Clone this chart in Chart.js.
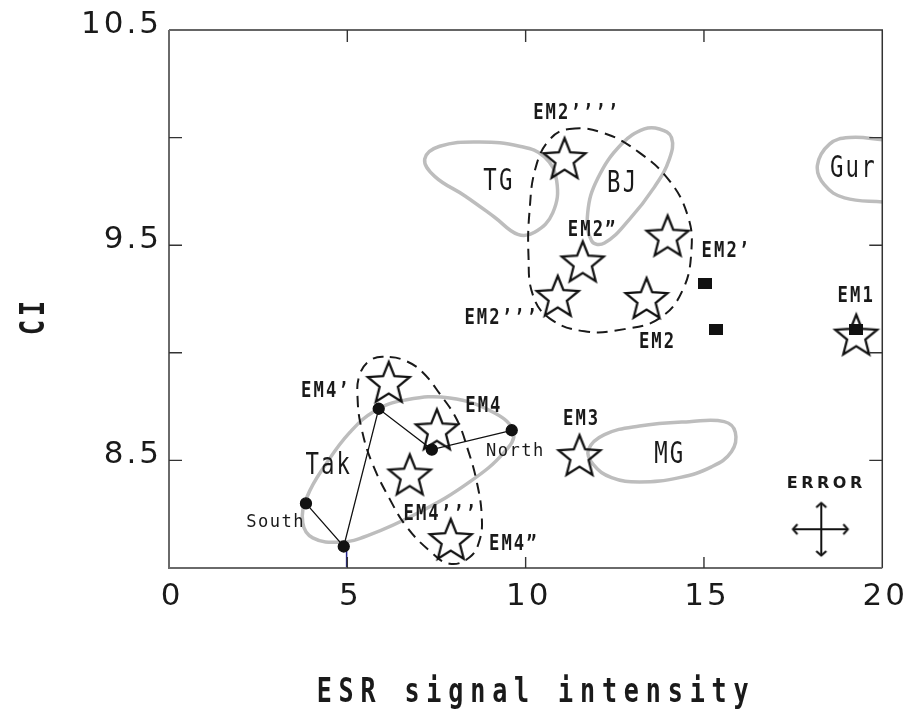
<!DOCTYPE html>
<html>
<head>
<meta charset="utf-8">
<script src="https://cdn.jsdelivr.net/npm/chart.js@4"></script>
<style>
html,body{margin:0;padding:0;background:#fff;}
#wrap{width:912px;height:709px;position:relative;}
</style>
</head>
<body>
<div id="wrap"><canvas id="chart"></canvas></div>
<script>
// axes
const xTicks = [0, 5, 10, 15, 20];
const yTicks = [8, 8.5, 9, 9.5, 10, 10.5];
const yTickLabels = ['10.5', '9.5', '8.5'];

// star samples (EM1 ... EM4''')
const starX = [19.27, 13.39, 13.98, 11.60, 10.90, 11.09, 11.51, 7.51, 6.16, 7.90, 6.75];
const starY = [9.08, 9.25, 9.54, 9.42, 9.26, 9.90, 8.52, 8.64, 8.86, 8.13, 8.43];

// black squares
const sqX = [15.04, 15.35, 19.27];
const sqY = [9.32, 9.11, 9.11];

// Tak profile, South -> North
const routeX = [3.84, 4.90, 5.88, 7.37, 9.61];
const routeY = [8.30, 8.10, 8.74, 8.55, 8.64];

// small blue mark under the lowest dot
const markX = [4.98, 4.98];
const markY = [8.0, 8.09];

// grey source fields
const tgX = [7.17, 7.59, 8.71, 9.83, 10.53, 10.87, 10.76, 10.25, 9.78, 9.13, 8.29, 7.45];
const tgY = [9.90, 9.96, 9.98, 9.96, 9.91, 9.80, 9.65, 9.56, 9.55, 9.63, 9.73, 9.82];
const bjX = [13.75, 14.09, 14.03, 13.61, 12.91, 12.21, 11.85, 11.74, 12.02, 12.69, 13.33];
const bjY = [10.04, 10.00, 9.90, 9.77, 9.62, 9.51, 9.52, 9.65, 9.81, 9.97, 10.04];
const gurX = [20.06, 19.08, 18.52, 18.18, 18.38, 18.94, 20.06];
const gurY = [9.99, 10.00, 9.97, 9.87, 9.78, 9.72, 9.70];
const mgX = [11.76, 12.21, 13.19, 14.59, 15.57, 15.88, 15.77, 15.21, 14.31, 13.19, 12.41, 11.90];
const mgY = [8.55, 8.62, 8.66, 8.68, 8.68, 8.63, 8.54, 8.47, 8.42, 8.40, 8.42, 8.48];
const takX = [3.75, 3.87, 4.43, 5.07, 5.77, 6.61, 7.87, 9.13, 9.66, 9.41, 8.43, 7.03, 5.57, 4.79, 4.03];
const takY = [8.21, 8.33, 8.49, 8.63, 8.73, 8.78, 8.79, 8.72, 8.63, 8.54, 8.40, 8.26, 8.15, 8.12, 8.14];

// dashed groups
const em2X = [11.23, 12.21, 13.19, 14.03, 14.54, 14.65, 14.40, 13.75, 12.77, 11.65, 10.67, 10.20, 10.08, 10.11, 10.28, 10.67];
const em2Y = [10.04, 10.02, 9.93, 9.80, 9.64, 9.48, 9.29, 9.16, 9.11, 9.10, 9.16, 9.27, 9.45, 9.66, 9.86, 9.99];
const em4X = [6.19, 6.67, 7.11, 7.59, 8.07, 8.38, 8.63, 8.77, 8.71, 8.43, 7.87, 7.31, 6.67, 6.19, 5.69, 5.41, 5.29, 5.35, 5.69];
const em4Y = [8.98, 8.96, 8.91, 8.81, 8.69, 8.55, 8.40, 8.24, 8.13, 8.05, 8.02, 8.08, 8.19, 8.32, 8.49, 8.64, 8.78, 8.90, 8.97];

// error cross
const errHX = [17.51, 19.02];
const errHY = [8.18, 8.18];
const errVX = [18.29, 18.29];
const errVY = [8.30, 8.06];

// text labels
const emLabels = ['EM1', 'EM2', 'EM2’', 'EM2”', 'EM2’’’', 'EM2’’’’', 'EM3', 'EM4', 'EM4’', 'EM4”', 'EM4’’’'];
const emLabelX = [19.24, 13.67, 15.60, 11.85, 9.30, 11.40, 11.54, 8.80, 4.37, 9.64, 7.59];
const emLabelY = [9.27, 9.06, 9.48, 9.58, 9.17, 10.12, 8.70, 8.76, 8.83, 8.12, 8.26];
const areaLabels = ['TG', 'BJ', 'Gur', 'MG', 'Tak'];
const areaLabelX = [9.22, 12.69, 19.16, 14.01, 4.45];
const areaLabelY = [9.81, 9.80, 9.87, 8.54, 8.49];
const siteLabels = ['South', 'North'];
const siteLabelX = [2.97, 9.69];
const siteLabelY = [8.22, 8.55];
const errLabel = 'ERROR';
const errLabelX = 18.38;
const errLabelY = 8.40;
const xTitle = 'ESR signal intensity';
const yTitle = 'CI';

function pts(xs, ys) {
  return xs.map((x, i) => ({x: x, y: ys[i]}));
}

// closed smooth loop: wrap one point on each side and hide the two extra segments
function loop(xs, ys) {
  const p = pts(xs, ys);
  const n = p.length;
  return [p[n - 1]].concat(p, [p[0], p[1]]);
}

function outline(xs, ys, color, width, dash, closed) {
  const data = closed ? loop(xs, ys) : pts(xs, ys);
  const last = data.length - 1;
  const ds = {
    data: data,
    showLine: true,
    borderColor: color,
    borderWidth: width,
    borderDash: dash,
    pointRadius: 0,
    tension: 0.42,
    fill: false
  };
  if (closed) {
    ds.segment = {
      borderColor: c => (c.p0DataIndex === 0 || c.p1DataIndex === last) ? 'rgba(0,0,0,0)' : undefined
    };
  }
  return ds;
}

function starImage() {
  const c = document.createElement('canvas');
  c.width = 52; c.height = 52;
  const g = c.getContext('2d');
  const R = 22, r = 9.6;
  g.beginPath();
  for (let i = 0; i < 10; i++) {
    const a = -Math.PI / 2 + i * Math.PI / 5;
    const rad = i % 2 === 0 ? R : r;
    const px = 26 + rad * Math.cos(a), py = 27 + rad * Math.sin(a);
    if (i === 0) g.moveTo(px, py); else g.lineTo(px, py);
  }
  g.closePath();
  g.lineWidth = 2.3;
  g.strokeStyle = '#111';
  g.stroke();
  return c;
}

function rectImage() {
  const c = document.createElement('canvas');
  c.width = 14; c.height = 11;
  const g = c.getContext('2d');
  g.fillStyle = '#111';
  g.fillRect(0, 0, 14, 11);
  return c;
}

function arrowImage() {
  const c = document.createElement('canvas');
  c.width = 14; c.height = 14;
  const g = c.getContext('2d');
  g.strokeStyle = '#111';
  g.lineWidth = 2;
  g.beginPath();
  g.moveTo(3, 2); g.lineTo(7.5, 7); g.lineTo(3, 12);
  g.stroke();
  return c;
}

const star = starImage();
const rect = rectImage();
const arrow = arrowImage();

function drawText(ctx, text, px, py, size, sx, spacing, font, color) {
  ctx.save();
  ctx.translate(px + spacing * sx / 2, py + size * 0.365);
  ctx.scale(sx, 1);
  ctx.font = font.replace('SIZE', size + 'px');
  ctx.letterSpacing = spacing + 'px';
  ctx.textAlign = 'center';
  ctx.textBaseline = 'alphabetic';
  ctx.fillStyle = color;
  ctx.fillText(text, 0, 0);
  ctx.restore();
}

const framePlugin = {
  id: 'frame',
  beforeDraw(chart) {
    chart.ctx.letterSpacing = '3px';
  },
  afterDatasetsDraw(chart) {
    const ctx = chart.ctx;
    const a = chart.chartArea;
    const xs = chart.scales.x, ys = chart.scales.y;
    ctx.save();
    ctx.letterSpacing = '0px';
    ctx.lineCap = 'butt';
    // box
    ctx.strokeStyle = '#333';
    ctx.lineWidth = 1.5;
    ctx.beginPath();
    ctx.moveTo(a.left, a.top); ctx.lineTo(a.right, a.top); ctx.lineTo(a.right, a.bottom);
    ctx.stroke();
    ctx.strokeStyle = '#6a6a6a';
    ctx.lineWidth = 2;
    ctx.beginPath();
    ctx.moveTo(a.left, a.top); ctx.lineTo(a.left, a.bottom); ctx.lineTo(a.right, a.bottom);
    ctx.stroke();
    // inward ticks
    ctx.strokeStyle = '#333';
    ctx.lineWidth = 1.4;
    ctx.beginPath();
    xs.ticks.forEach(t => {
      if (t.value <= xs.min || t.value >= xs.max) return;
      const px = xs.getPixelForValue(t.value);
      ctx.moveTo(px, a.top); ctx.lineTo(px, a.top + 12);
      ctx.moveTo(px, a.bottom); ctx.lineTo(px, a.bottom - 11);
    });
    ys.ticks.forEach(t => {
      if (t.value <= ys.min || t.value >= ys.max) return;
      const py = ys.getPixelForValue(t.value);
      ctx.moveTo(a.left, py); ctx.lineTo(a.left + 13, py);
      ctx.moveTo(a.right, py); ctx.lineTo(a.right - 13, py);
    });
    ctx.stroke();

    const mono = 'SIZE "DejaVu Sans Mono", monospace';
    const monoBold = 'bold SIZE "DejaVu Sans Mono", monospace';
    emLabels.forEach((t, i) => {
      drawText(ctx, t, xs.getPixelForValue(emLabelX[i]), ys.getPixelForValue(emLabelY[i]), 21, 0.82, 2.5, monoBold, '#1a1a1a');
    });
    areaLabels.forEach((t, i) => {
      drawText(ctx, t, xs.getPixelForValue(areaLabelX[i]), ys.getPixelForValue(areaLabelY[i]), 31, 0.72, 3, mono, '#1a1a1a');
    });
    siteLabels.forEach((t, i) => {
      drawText(ctx, t, xs.getPixelForValue(siteLabelX[i]), ys.getPixelForValue(siteLabelY[i]), 18, 0.95, 1.5, mono, '#1a1a1a');
    });
    drawText(ctx, errLabel, xs.getPixelForValue(errLabelX), ys.getPixelForValue(errLabelY), 16, 1, 3.5, 'bold SIZE "DejaVu Sans", sans-serif', '#1a1a1a');

    // axis titles
    drawText(ctx, xTitle, (a.left + a.right) / 2 + 7, 690, 33, 0.76, 9, monoBold, '#1a1a1a');
    ctx.save();
    ctx.translate(32, 318);
    ctx.rotate(-Math.PI / 2);
    drawText(ctx, yTitle, 0, 0, 33, 0.76, 5, monoBold, '#1a1a1a');
    ctx.restore();
    ctx.restore();
  }
};

new Chart(document.getElementById('chart'), {
  type: 'scatter',
  data: {
    datasets: [
      {data: pts(starX, starY), pointStyle: star, pointRadius: 22},
      {data: pts(sqX, sqY), pointStyle: rect, pointRadius: 7},
      {data: pts(routeX, routeY), showLine: true, borderColor: '#111', borderWidth: 1.3,
        pointRadius: 5.5, pointBackgroundColor: '#111', pointBorderColor: '#111', tension: 0},
      {data: pts(errHX, errHY), showLine: true, borderColor: '#111', borderWidth: 2,
        pointStyle: arrow, pointRadius: 7, rotation: [180, 0]},
      {data: pts(errVX, errVY), showLine: true, borderColor: '#111', borderWidth: 2,
        pointStyle: arrow, pointRadius: 7, rotation: [-90, 90]},
      {data: pts(markX, markY), showLine: true, borderColor: '#22228a', borderWidth: 1.5, pointRadius: 0},
      outline(em2X, em2Y, '#1a1a1a', 2, [11, 7], true),
      outline(em4X, em4Y, '#1a1a1a', 2, [11, 7], true),
      outline(tgX, tgY, '#bdbdbd', 3.5, [], true),
      outline(bjX, bjY, '#bdbdbd', 3.5, [], true),
      outline(mgX, mgY, '#bdbdbd', 3.5, [], true),
      outline(takX, takY, '#bdbdbd', 3.5, [], true),
      outline(gurX, gurY, '#bdbdbd', 3.5, [], false)
    ]
  },
  options: {
    responsive: true,
    maintainAspectRatio: false,
    animation: false,
    events: [],
    layout: {padding: {top: 30, right: 29, left: 0, bottom: 0}},
    plugins: {legend: {display: false}, tooltip: {enabled: false}},
    scales: {
      x: {
        type: 'linear', min: 0, max: 20,
        afterBuildTicks: s => { s.ticks = xTicks.map(v => ({value: v})); },
        afterFit: s => { s.height = 141; },
        grid: {display: false, drawTicks: false},
        border: {display: false},
        ticks: {font: {family: 'DejaVu Sans', size: 31}, color: '#1a1a1a', padding: 10,
          labelOffset: 3, maxRotation: 0, autoSkip: false}
      },
      y: {
        type: 'linear', min: 8, max: 10.5,
        afterBuildTicks: s => { s.ticks = yTicks.map(v => ({value: v})); },
        afterFit: s => { s.width = 169; },
        grid: {display: false, drawTicks: false},
        border: {display: false},
        ticks: {font: {family: 'DejaVu Sans', size: 31}, color: '#1a1a1a', padding: 7,
          labelOffset: -5, autoSkip: false,
          callback: v => yTickLabels.includes(v.toFixed(1)) ? v.toFixed(1) : ''}
      }
    }
  },
  plugins: [framePlugin]
});
</script>
</body>
</html>
